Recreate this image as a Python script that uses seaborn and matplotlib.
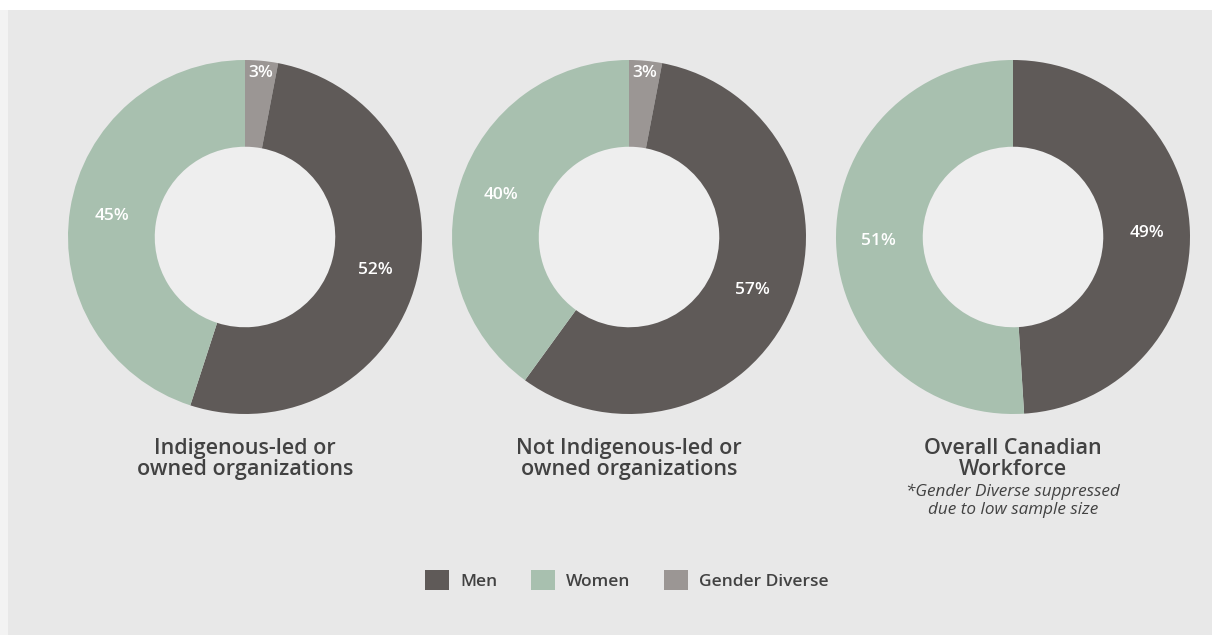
import matplotlib
matplotlib.use("Agg")
import matplotlib.pyplot as plt
import matplotlib.patches as mpatches
import numpy as np
import seaborn as sns

# Gender composition of workforce by organization type (percent)
groups = ["Gender Diverse", "Men", "Women"]
indigenous_led = [3, 52, 45]
not_indigenous_led = [3, 57, 40]
overall_canadian = [0, 49, 51]

titles = [
    "Indigenous-led or\nowned organizations",
    "Not Indigenous-led or\nowned organizations",
    "Overall Canadian\nWorkforce",
]
footnote = "*Gender Diverse suppressed\ndue to low sample size"
legend_order = ["Men", "Women", "Gender Diverse"]

sns.set_theme(style="white")
plt.rcParams["font.family"] = ["Open Sans", "DejaVu Sans"]

palette = dict(zip(groups, sns.color_palette(["#9b9694", "#5f5a58", "#a8c0af"])))
text_color = "#424242"
bg_color = "#e8e8e8"
hole_color = "#eeeeee"

W, H = 1212, 635
fig = plt.figure(figsize=(W / 100, H / 100), dpi=100, facecolor=bg_color)

# framing bands: white strip on top, lighter strip on the left
fig.patches.append(mpatches.Rectangle((0, 1 - 10 / H), 1, 10 / H, transform=fig.transFigure,
                                      facecolor="white", edgecolor="none", zorder=0))
fig.patches.append(mpatches.Rectangle((0, 0), 8 / W, 1 - 10 / H, transform=fig.transFigure,
                                      facecolor="#f3f3f3", edgecolor="none", zorder=0))

centers_x = [245, 629, 1013]
center_y = 237
R = 177
ring_width = 0.49
datasets = [indigenous_led, not_indigenous_led, overall_canadian]

for cx, values, title in zip(centers_x, datasets, titles):
    ax = fig.add_axes([(cx - R) / W, (H - center_y - R) / H, 2 * R / W, 2 * R / H])
    ax.set_facecolor("none")
    names = [g for g, v in zip(groups, values) if v > 0]
    vals = [v for v in values if v > 0]
    wedges, _ = ax.pie(vals, colors=[palette[n] for n in names], startangle=90,
                       counterclock=False, radius=1.0,
                       wedgeprops=dict(width=ring_width, linewidth=0, edgecolor="none"))
    ax.add_patch(mpatches.Circle((0, 0), 1 - ring_width, facecolor=hole_color,
                                 edgecolor="none", zorder=0))
    for w, v in zip(wedges, vals):
        mid = np.deg2rad((w.theta1 + w.theta2) / 2)
        r = 0.93 if v < 5 else 0.76
        ax.text(r * np.cos(mid), r * np.sin(mid), f"{v}%", ha="center", va="center",
                color="white", fontsize=12.5, fontweight="semibold")
    ax.set_xlim(-1, 1)
    ax.set_ylim(-1, 1)
    ax.set_aspect("equal")
    ax.axis("off")

    fig.text(cx / W, 1 - 438 / H, title, ha="center", va="top", color=text_color,
             fontsize=15.5, fontweight="semibold", linespacing=0.98)

fig.text(centers_x[2] / W, 1 - 484 / H, footnote, ha="center", va="top", color=text_color,
         fontsize=12.3, fontstyle="italic", linespacing=1.15)

handles = [mpatches.Patch(facecolor=palette[n], edgecolor="none", label=n) for n in legend_order]
leg = fig.legend(handles=handles, loc="center", bbox_to_anchor=(627 / W, 1 - 580 / H),
                 ncol=3, frameon=False, handlelength=1.4, handleheight=1.4,
                 handletextpad=0.65, columnspacing=1.9,
                 prop=dict(size=12.5, weight="semibold"))
for t in leg.get_texts():
    t.set_color(text_color)

fig.savefig("out.png", dpi=100, facecolor=bg_color)
